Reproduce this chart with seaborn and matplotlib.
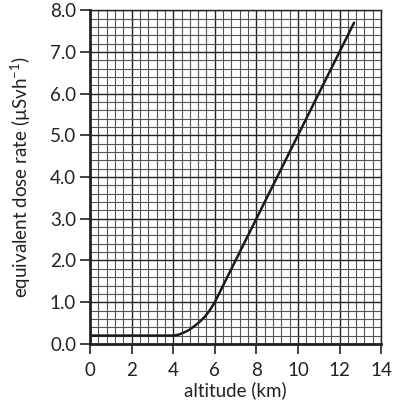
import numpy as np
import pandas as pd
import seaborn as sns
import matplotlib.pyplot as plt
from matplotlib.ticker import MultipleLocator

# values
altitude = [0.0, 2.0, 4.0, 4.25, 4.5, 4.75, 5.0, 5.25, 5.5, 5.75, 6.0, 6.5, 8.0, 10.0, 12.7]
dose_rate = [0.2, 0.2, 0.2, 0.22, 0.27, 0.33, 0.42, 0.52, 0.64, 0.8, 1.0, 1.5, 3.0, 5.0, 7.7]

x_ticks = [0, 2, 4, 6, 8, 10, 12, 14]
y_ticks = [0, 1, 2, 3, 4, 5, 6, 7, 8]

df = pd.DataFrame({'altitude': altitude, 'dose': dose_rate})

sns.set_style('white')
plt.rcParams['font.family'] = ['Lato', 'DejaVu Sans']
plt.rcParams['mathtext.fontset'] = 'custom'
plt.rcParams['mathtext.rm'] = 'Lato'
plt.rcParams['mathtext.default'] = 'regular'

fig = plt.figure(figsize=(4.02, 4.07), dpi=100)
ax = fig.add_axes([0.224, 0.155, 0.724, 0.82])

ax.set_xlim(0, 14)
ax.set_ylim(0, 8)
ax.xaxis.set_minor_locator(MultipleLocator(0.4))
ax.yaxis.set_minor_locator(MultipleLocator(0.2))
ax.set_xticks(x_ticks)
ax.set_yticks(y_ticks)
ax.set_yticklabels([f'{v:.1f}' for v in y_ticks])
ax.grid(which='minor', color='#555555', linewidth=0.8)
ax.grid(which='major', color='#222222', linewidth=1.0)
ax.set_axisbelow(True)

sns.lineplot(data=df, x='altitude', y='dose', color='#1a1a1a', linewidth=1.8, ax=ax)

for side in ['top', 'right']:
    ax.spines[side].set_linewidth(1.0)
    ax.spines[side].set_color('#222222')
for side in ['left', 'bottom']:
    ax.spines[side].set_linewidth(2.0)
    ax.spines[side].set_color('#222222')

ax.tick_params(axis='both', which='major', direction='out', length=7, width=1.2,
               color='#222222', labelsize=13.5, labelcolor='#222222', left=True, bottom=True,
               pad=3)
ax.tick_params(axis='x', pad=6)
ax.tick_params(which='minor', length=0)

ax.set_xlabel('altitude (km)', fontsize=13.5, color='#222222', labelpad=2)
ax.set_ylabel('equivalent dose rate (µSvh$^{-1}$)', fontsize=13.5, color='#222222', labelpad=12)

fig.savefig('out.png', dpi=100)
